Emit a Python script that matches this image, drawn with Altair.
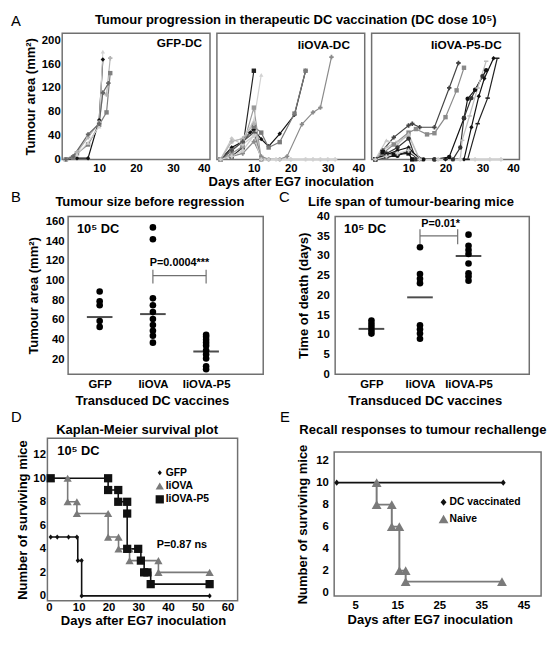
import altair as alt
import pandas as pd

FONT = "Liberation Sans"
TITLE_SIZE = 13.2

# ---------------- Panel A : individual tumour growth curves ----------------
A_PANELS = ["GFP-DC", "IiOVA-DC", "IiOVA-P5-DC"]

GFP_DC_DAYS = [
    [1, 4, 7, 10, 11],
    [1, 3, 4, 7, 10, 12, 13],
    [1, 4, 7, 10, 11, 12, 13],
    [1, 4, 7, 10, 11],
    [1, 3, 7, 10, 11, 12.5],
]
GFP_DC_AREA = [
    [0, 2, 2, 66, 168],
    [0, 3, 10, 25, 58, 79, 145],
    [0, 12, 37, 62, 112, 109, 170],
    [0, 8, 28, 55, 181],
    [0, 5, 42, 60, 112, 128],
]

IIOVA_DC_DAYS = [
    [1, 4, 7, 10],
    [1, 4, 7, 9, 10, 12, 14, 17, 21, 24],
    [1, 4, 7, 10, 12, 14, 17, 21, 24],
    [1, 4, 7, 10, 12],
    [1, 4, 7, 10, 12],
    [1, 4, 7, 10, 12, 14, 17, 19, 23, 26, 28, 31],
    [1, 4, 7, 10, 12, 14, 17, 20],
    [1, 4, 7, 10, 12],
    [1, 4, 7, 10, 12],
    [1, 4, 7, 10, 12, 16, 20, 24, 26, 28, 30, 32],
]
IIOVA_DC_AREA = [
    [0, 5, 20, 149],
    [0, 20, 30, 45, 50, 34, 22, 43, 75, 149],
    [0, 15, 30, 55, 45, 20, 29, 77, 149],
    [0, 10, 22, 87, 0],
    [0, 30, 35, 65, 142],
    [0, 5, 10, 30, 5, 0, 0, 5, 59, 79, 87, 172],
    [0, 35, 25, 40, 0, 0, 0, 0],
    [0, 30, 35, 60, 0],
    [0, 15, 30, 45, 0],
    [0, 5, 15, 40, 0, 0, 0, 0, 0, 0, 0, 0],
]

P5_DC_DAYS = [
    [1, 3, 6, 10, 11, 13, 17, 21, 23.5],
    [1, 3, 6, 10, 12, 15, 17, 20, 23, 25],
    [1, 3, 6, 10, 11],
    [1, 4, 7, 10, 13],
    [1, 4, 7, 10, 14, 17, 21, 25, 26, 28, 31],
    [1, 4, 7, 10, 12, 17, 22, 24, 25, 27, 30],
    [1, 4, 7, 10, 13, 18, 24, 24.5, 26.5, 28.7, 31],
    [1, 4, 7, 10, 13, 20, 25, 27, 29, 30.5, 33],
    [1, 4, 7, 10, 13, 20, 26, 28.7, 31.4, 34],
    [1, 4, 7, 10, 13, 18, 24, 28, 32, 35],
]
P5_DC_AREA = [
    [0, 15, 37, 57, 60, 54, 54, 120, 162],
    [0, 10, 25, 45, 51, 42, 44, 71, 116, 154],
    [0, 12, 8, 10, 0],
    [0, 32, 25, 43, 0],
    [0, 5, 6, 15, 0, 0, 4, 69, 102, 117, 150],
    [0, 10, 20, 35, 0, 0, 0, 20, 70, 103, 140],
    [0, 20, 30, 40, 0, 0, 0, 32, 73, 120, 165],
    [0, 8, 15, 20, 0, 0, 0, 54, 106, 136, 170],
    [0, 3, 8, 12, 0, 0, 0, 60, 103, 170],
    [0, 5, 10, 15, 0, 0, 0, 0, 0, 0],
]

# styles (colour, marker) per mouse -- kept apart from the values
DASH = "M-1,-0.35H1V0.35H-1Z"
GFP_DC_STYLE = [("#111111", "diamond"), ("#808080", "square"), ("#b4b4b4", "cross"),
                ("#d2d2d2", "triangle-up"), ("#666666", "cross")]
IIOVA_DC_STYLE = [("#222222", "square"), ("#111111", "diamond"), ("#7a7a7a", "square"),
                  ("#9a9a9a", "square"), ("#d2d2d2", "triangle-up"), ("#8a8a8a", "cross"),
                  ("#c8c8c8", "diamond"), ("#b4b4b4", "cross"), ("#555555", "cross"),
                  ("#d0d0d0", "cross")]
P5_DC_STYLE = [("#444444", "cross"), ("#8a8a8a", "square"), ("#111111", "square"),
               ("#c8c8c8", "triangle-up"), ("#111111", "circle"), ("#333333", "circle"),
               ("#bdbdbd", DASH), ("#111111", "diamond"), ("#222222", DASH),
               ("#d0d0d0", "cross")]

A_DAYS = [GFP_DC_DAYS, IIOVA_DC_DAYS, P5_DC_DAYS]
A_AREA = [GFP_DC_AREA, IIOVA_DC_AREA, P5_DC_AREA]
A_STYLE = [GFP_DC_STYLE, IIOVA_DC_STYLE, P5_DC_STYLE]
A_LABEL_X = [142, 135, 132]
A_LABEL_Y = [10, 12, 12]

rows, ids, cols, shps = [], [], [], []
for p in range(3):
    for m, (d, a, s) in enumerate(zip(A_DAYS[p], A_AREA[p], A_STYLE[p])):
        mid = f"{p}-{m}"
        ids.append(mid)
        cols.append(s[0])
        shps.append(s[1])
        for k, (dd, aa) in enumerate(zip(d, a)):
            rows.append(dict(panel=A_PANELS[p], mouse=mid, day=dd, area=aa, k=k))
dfA = pd.DataFrame(rows)


def text_layer(txt, px, py, size=TITLE_SIZE, bold=True, align="center", baseline="middle"):
    return alt.Chart(pd.DataFrame({"t": [txt]})).mark_text(
        font=FONT, fontSize=size, fontWeight="bold" if bold else "normal", color="black",
        align=align, baseline=baseline).encode(text="t:N", x=alt.value(px), y=alt.value(py))


def letter_layer(letter, px, py):
    return text_layer(letter, px, py, size=15, bold=False, align="left", baseline="top")


def symbol_layer(shape, color, size, px, py):
    return alt.Chart(pd.DataFrame({"a": [0]})).mark_point(
        filled=True, opacity=1, shape=shape, color=color, size=size).encode(
        x=alt.value(px), y=alt.value(py))


def spacer(w=1, h=1):
    return alt.Chart(pd.DataFrame({"a": [0]})).mark_point(opacity=0, size=1).encode(
        x=alt.value(0), y=alt.value(0)).properties(
        width=w, height=h, view=alt.ViewBackground(strokeOpacity=0))


def a_panel(p):
    name = A_PANELS[p]
    base = alt.Chart(dfA).transform_filter(alt.datum.panel == name)
    x = alt.X("day:Q", scale=alt.Scale(domain=[0, 40], nice=False),
              axis=alt.Axis(values=[10, 20, 30, 40],
                            title="Days after EG7 inoculation" if p == 1 else None,
                            labelPadding=3, titlePadding=2))
    if p == 0:
        y = alt.Y("area:Q", scale=alt.Scale(domain=[0, 212], nice=False),
                  axis=alt.Axis(values=[0, 40, 80, 120, 160, 200], title="Tumour area (mm²)",
                                labelPadding=2, titlePadding=4))
    else:
        y = alt.Y("area:Q", scale=alt.Scale(domain=[0, 212], nice=False), axis=None)
    color = alt.Color("mouse:N", scale=alt.Scale(domain=ids, range=cols), legend=None)
    lines = base.mark_line(strokeWidth=1.2).encode(x=x, y=y, color=color, detail="mouse:N",
                                                   order="k:Q")
    pts = base.mark_point(filled=True, size=20, opacity=1).encode(
        x=x, y=y, color=color,
        shape=alt.Shape("mouse:N", scale=alt.Scale(domain=ids, range=shps), legend=None))
    layers = [lines, pts, text_layer(name, A_LABEL_X[p], A_LABEL_Y[p], size=12, align="right")]
    if p == 0:
        layers.append(letter_layer("A", -52, -19))
    if p == 1:
        layers.append(text_layer(
            "Tumour progression in therapeutic DC vaccination (DC dose 10⁵)", 80, -13))
    return alt.layer(*layers).properties(width=150, height=128)


row_a = alt.hconcat(
    spacer(),
    alt.hconcat(a_panel(0), a_panel(1), a_panel(2), spacing=7, bounds="flush"),
    spacing=0)

# ---------------- Panels B and C : scatter with means ----------------
CATS = ["GFP", "IiOVA", "IiOVA-P5"]

B_GFP = [89, 79, 75, 59, 53]
B_IIOVA = [154, 142, 82, 75, 68, 61, 55, 49, 44, 37]
B_P5 = [45, 43, 40, 37, 34, 29, 25, 21, 13, 10]
B_MEAN = [63, 66, 28]

C_GFP = [13.6, 12.8, 12.0, 11.1, 10.3]
C_IIOVA = [32.2, 25.4, 24.2, 23.1, 12.4, 11.4, 10.3, 9.0]
C_P5 = [35.4, 32.6, 31.5, 30.5, 28.1, 25.6, 24.8, 23.7]
C_MEAN = [11.5, 19.5, 30.0]


def scatter_panel(vals, means, ydom, yvals, ytitle, title, title_px, letter, letter_x,
                  p_text, p_px, bracket, right_off, pad, align, title_x, width, height,
                  ylabpad, ytitpad):
    dfp = pd.DataFrame([dict(g=g, v=v) for g, vs in zip(CATS, vals) for v in vs])
    dfm = pd.DataFrame(dict(g=CATS, v=means))
    xs = alt.Scale(type="point", domain=CATS, padding=pad, align=align)
    ys = alt.Scale(domain=ydom, nice=False, zero=False)
    x = alt.X("g:N", scale=xs, axis=alt.Axis(labelAngle=0, title="Transduced DC vaccines",
                                             titleX=title_x, labelPadding=5, titlePadding=4))
    y = alt.Y("v:Q", scale=ys, axis=alt.Axis(values=yvals, title=ytitle,
                                             labelPadding=ylabpad, titlePadding=ytitpad))
    pts = alt.Chart(dfp).mark_circle(size=45, color="black", opacity=1).encode(x=x, y=y)
    mn = alt.Chart(dfm).mark_tick(color="black", thickness=2, size=26).encode(x=x, y=y)
    bar = alt.Chart(pd.DataFrame(dict(g=[CATS[1]], g2=[CATS[2]], v=[bracket[0]]))).mark_rule(
        color="#707070", strokeWidth=1.2, x2Offset=right_off).encode(x=x, x2="g2:N", y=y)
    end_l = alt.Chart(pd.DataFrame(dict(g=[CATS[1]], v=[bracket[1]], v2=[bracket[2]]))).mark_rule(
        color="#707070", strokeWidth=1.2).encode(x=x, y=y, y2="v2:Q")
    end_r = alt.Chart(pd.DataFrame(dict(g=[CATS[2]], v=[bracket[1]], v2=[bracket[2]]))).mark_rule(
        color="#707070", strokeWidth=1.2, xOffset=right_off).encode(x=x, y=y, y2="v2:Q")
    return alt.layer(
        pts, mn, bar, end_l, end_r,
        text_layer(p_text, p_px[0], p_px[1], size=11),
        text_layer("10⁵ DC", 9, 13, size=13, align="left"),
        text_layer(title, title_px[0], title_px[1]),
        letter_layer(letter, letter_x, -27),
    ).properties(width=width, height=height)


panel_b = scatter_panel([B_GFP, B_IIOVA, B_P5], B_MEAN, [5, 165], list(range(20, 161, 20)),
                        "Tumour area (mm²)", "Tumour size before regression", (83, -15), "B",
                        -58, "P=0.0004***", (113, 47), (105, 97, 111), 0, 0.833, 0.356, 85,
                        198, 160, 4, 5)
panel_c = scatter_panel([C_GFP, C_IIOVA, C_P5], C_MEAN, [0, 40], list(range(0, 41, 5)),
                        "Time of death (days)", "Life span of tumour-bearing mice", (77, -15),
                        "C", -57, "P=0.01*", (107, 8), (35.1, 33.0, 36.8), -11, 1.01, 0.374, 91,
                        197, 160, 6, 6)
row_bc = alt.hconcat(spacer(), alt.hconcat(panel_b, panel_c, spacing=14), spacing=0)

# ---------------- Panels D and E : survival curves ----------------
D_GROUPS = ["GFP", "IiOVA", "IiOVA-P5"]
D_GFP_T = [0.6, 2.8, 6.6, 9.4, 9.7, 11.0, 11.0, 54.0]
D_GFP_N = [5, 5, 5, 5, 3, 3, 0, 0]
D_IIOVA_T = [0.6, 6.3, 6.3, 9.4, 9.4, 19.9, 19.9, 23.4, 23.4, 27.1, 27.1, 36.8, 36.8, 54.0]
D_IIOVA_N = [10, 10, 8, 8, 7, 7, 5, 5, 4, 4, 3, 3, 2, 2]
D_P5_T = [0.6, 19.9, 19.9, 23.3, 23.3, 26.3, 26.3, 26.3, 30.0, 30.9, 32.0, 33.1, 34.2, 54.0]
D_P5_N = [10, 10, 9, 9, 8, 8, 7, 4, 4, 3, 2, 2, 1, 1]

E_GROUPS = ["DC vaccinated", "Naive"]
E_DC_T = [0.6, 40.2]
E_DC_N = [10, 10]
E_NAIVE_T = [10.1, 10.1, 13.7, 13.7, 15.5, 15.5, 17.0, 17.0, 39.9]
E_NAIVE_N = [10, 8, 8, 6, 6, 2, 2, 1, 1]

SMALL_DIAMOND = "M0,-0.62L0.5,0L0,0.62L-0.5,0Z"
E_DIAMOND = "M0,-0.72L0.6,0L0,0.72L-0.6,0Z"


def km_panel(groups, ts, ns, colors, shapes, msize, xdom, xvals, ydom, width, height,
             title, title_px, letter, letter_x, letter_y, leg_x, leg_y, leg_step,
             title_x, xlabpad, xtitpad, ylabpad, ytitpad, texts, line_w):
    df = pd.DataFrame([dict(group=g, t=t, n=n, k=k)
                       for g, tt, nn in zip(groups, ts, ns)
                       for k, (t, n) in enumerate(zip(tt, nn))])
    x = alt.X("t:Q", scale=alt.Scale(domain=xdom, nice=False, zero=False),
              axis=alt.Axis(values=xvals, title="Days after EG7 inoculation", titleX=title_x,
                            labelPadding=xlabpad, titlePadding=xtitpad))
    y = alt.Y("n:Q", scale=alt.Scale(domain=ydom, nice=False, zero=False),
              axis=alt.Axis(values=list(range(0, 13, 2)), title="Number of surviving mice",
                            labelPadding=ylabpad, titlePadding=ytitpad))
    cs = alt.Scale(domain=groups, range=colors)
    ss = alt.Scale(domain=groups, range=shapes)
    layers = []
    for g, c in zip(groups, colors):
        layers.append(alt.Chart(df).transform_filter(alt.datum.group == g).mark_line(
            interpolate="step-after", strokeWidth=line_w, color=c).encode(
            x=x, y=y, order="k:Q"))
    layers.append(alt.Chart(df).mark_point(filled=True, size=msize, opacity=1).encode(
        x=x, y=y, color=alt.Color("group:N", scale=cs, legend=None),
        shape=alt.Shape("group:N", scale=ss, legend=None)))
    # legend drawn inside the plot
    for i, (g, c, s) in enumerate(zip(groups, colors, shapes)):
        yy = leg_y + i * leg_step
        layers.append(symbol_layer(s, c, msize, leg_x, yy))
        layers.append(text_layer(g, leg_x + 6, yy, size=10.5, align="left"))
    for txt, px, py, fs in texts:
        layers.append(text_layer(txt, px, py, size=fs, align="left"))
    layers.append(text_layer(title, title_px[0], title_px[1]))
    layers.append(letter_layer(letter, letter_x, letter_y))
    return alt.layer(*layers).properties(width=width, height=height)


panel_d = km_panel(D_GROUPS, [D_GFP_T, D_IIOVA_T, D_P5_T], [D_GFP_N, D_IIOVA_N, D_P5_N],
                   ["#111111", "#7a7a7a", "#111111"], [SMALL_DIAMOND, "triangle-up", "square"],
                   70, [-0.5, 63.4], list(range(0, 61, 10)), [-0.42, 13.4], 193, 165,
                   "Kaplan-Meier survival plot", (91, -8), "D", -37, -28, 114, 35, 13.5, 97,
                   1, 2, 2, 3, [("10⁵ DC", 10, 13, 13), ("P=0.87 ns", 111, 108, 11)], 1.6)
panel_e = km_panel(E_GROUPS, [E_DC_T, E_NAIVE_T], [E_DC_N, E_NAIVE_N],
                   ["#111111", "#7a7a7a"], [E_DIAMOND, "triangle-up"],
                   100, [0, 49.2], [5, 15, 25, 35, 45], [-0.3, 12.78], 210, 146,
                   "Recall responses to tumour rechallenge", (90, -22), "E", -55, -42, 111, 51,
                   17, 97, 4, 3, 6, 6, [], 2)
row_de = alt.hconcat(
    spacer(),
    alt.hconcat(alt.vconcat(spacer(), panel_d, spacing=0),
                alt.vconcat(spacer(), panel_e, spacing=0), spacing=41),
    spacing=0)

chart = alt.vconcat(row_a, row_bc, row_de, spacing=0).resolve_scale(
    color="independent", shape="independent").properties(padding=0).configure_view(
    stroke="#707070", strokeWidth=1.5
).configure_axis(
    domain=False, ticks=False, grid=False,
    labelFont=FONT, labelFontSize=11.5, labelFontWeight="bold", labelColor="black",
    titleFont=FONT, titleFontSize=13.2, titleFontWeight="bold", titleColor="black"
)

chart.save("out.html", embed_options={"renderer": "svg", "actions": False})
